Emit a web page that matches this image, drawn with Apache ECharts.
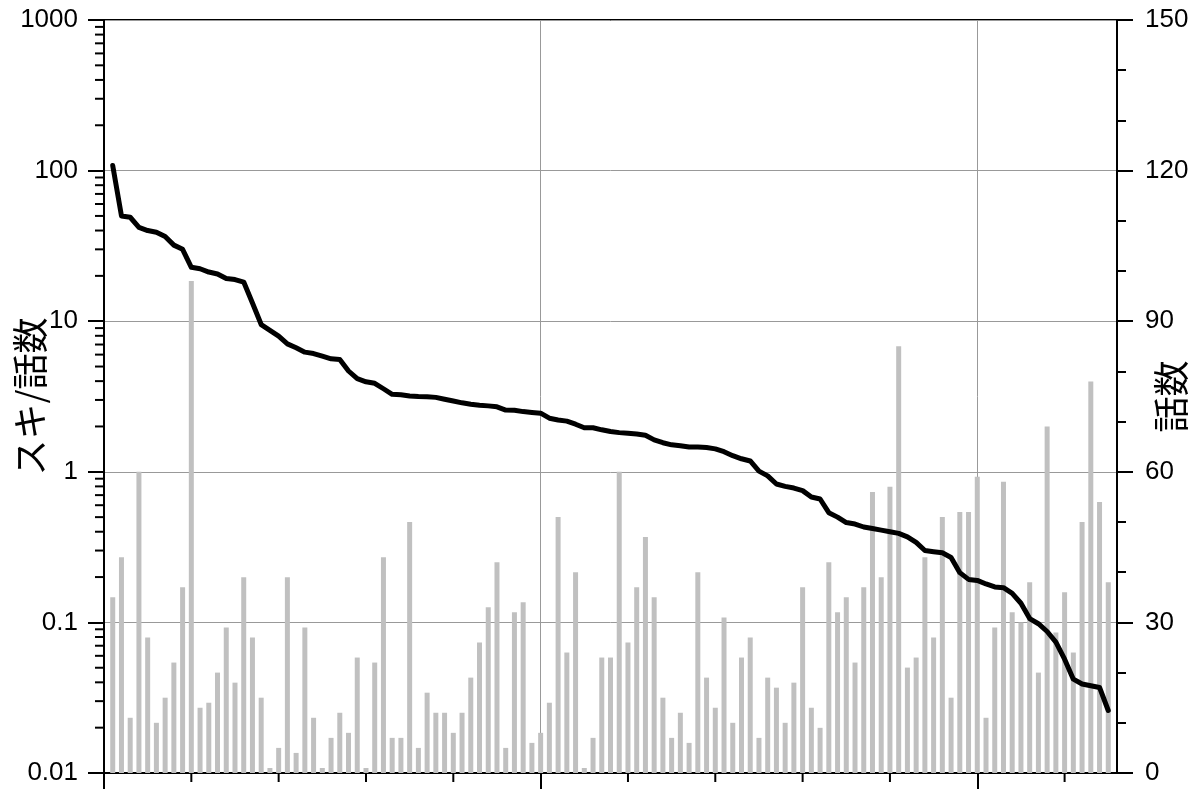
<!DOCTYPE html>
<html><head><meta charset="utf-8">
<script src="https://cdn.jsdelivr.net/npm/echarts@6/dist/echarts.min.js"></script>
<style>html,body{margin:0;padding:0;background:#fff}#c{width:1200px;height:795px}</style>
</head><body><div id="c"></div>
<script>
// 話数 per work (bars, right axis)
const episodes = [
35,43,11,60,27,10,15,22,37,98,
13,14,20,29,18,39,27,15,1,5,
39,4,29,11,1,7,12,8,23,1,
22,43,7,7,50,5,16,12,12,8,
12,19,26,33,42,5,32,34,6,8,
14,51,24,40,1,7,23,23,60,26,
37,47,35,15,7,12,6,40,19,13,
31,10,23,27,7,19,17,10,18,37,
13,9,42,32,35,22,37,56,39,57,
85,21,23,43,27,51,15,52,52,59,
11,29,58,32,30,38,20,69,28,36,
24,50,78,54,38];
// スキ/話数 (line, left log axis)
const likesPerEpisode = [
108,50,49,42,40,39,36.5,32,30,22.8,
22.3,21.2,20.6,19.2,18.9,18.2,13.2,9.5,8.7,7.96,
7.07,6.66,6.23,6.1,5.86,5.63,5.57,4.67,4.15,3.96,
3.87,3.56,3.27,3.25,3.19,3.16,3.15,3.12,3.03,2.95,
2.87,2.81,2.77,2.74,2.70,2.57,2.56,2.51,2.48,2.45,
2.27,2.21,2.17,2.07,1.96,1.96,1.90,1.85,1.82,1.80,
1.78,1.75,1.63,1.56,1.51,1.49,1.46,1.46,1.45,1.42,
1.36,1.28,1.22,1.18,1.01,0.94,0.83,0.80,0.78,0.75,
0.68,0.66,0.535,0.50,0.46,0.45,0.43,0.42,0.41,0.40,
0.39,0.37,0.34,0.30,0.295,0.29,0.27,0.214,0.193,0.19,
0.18,0.172,0.17,0.156,0.134,0.106,0.098,0.087,0.074,0.057,
0.042,0.039,0.038,0.037,0.026];
const xMajorTicks = [0, 50, 100];
const xMinorTicks = [10, 20, 30, 40, 60, 70, 80, 90, 110];
const logMinorMultipliers = [2, 3, 4, 5, 6, 7, 8, 9];
const logDecades = [0.01, 0.1, 1, 10, 100];

const idx = episodes.map((_, i) => i + 1);
const barData = idx.map((x, i) => [x, episodes[i]]);
const lineData = idx.map((x, i) => [x, likesPerEpisode[i]]);
const logMinor = [];
logDecades.forEach(d => logMinorMultipliers.forEach(k => logMinor.push([0, +(k * d).toPrecision(3)])));
const xMinorData = xMinorTicks.map(v => [v, 0.01]);

const FONT = 'Liberation Sans, Arial, sans-serif';
const JP = 'Noto Sans CJK JP, sans-serif';
const black = '#000';

const chart = echarts.init(document.getElementById('c'));
chart.setOption({
  animation: false,
  backgroundColor: '#fff',
  grid: { left: 104, right: 83, top: 20, bottom: 22, show: true, borderColor: black, borderWidth: 2, outerBoundsMode: 'none', containLabel: false },
  xAxis: [{
    type: 'value', min: 0, max: 116, interval: 50,
    axisLine: { show: true, onZero: false, lineStyle: { color: black, width: 2 } },
    axisTick: { show: true, customValues: xMajorTicks, length: 16, lineStyle: { color: black, width: 2 } },
    axisLabel: { show: false },
    splitLine: { show: true, lineStyle: { color: '#999', width: 1 } },
    minorTick: { show: false }
  }],
  yAxis: [{
    type: 'log', logBase: 10, min: 0.01, max: 1000, position: 'left',
    name: 'スキ/話数', nameLocation: 'middle', nameRotate: 90, nameGap: 56, nameMoveOverlap: false,
    nameTextStyle: { fontSize: 36, color: black, fontFamily: JP },
    axisLine: { show: true, onZero: false, lineStyle: { color: black, width: 2 } },
    axisTick: { show: true, length: 16, lineStyle: { color: black, width: 2 } },
    axisLabel: { color: black, fontSize: 26, fontFamily: FONT, margin: 26, formatter: v => String(v) },
    splitLine: { show: true, lineStyle: { color: '#999', width: 1 } }
  }, {
    type: 'value', min: 0, max: 150, interval: 30, position: 'right',
    name: '話数', nameLocation: 'middle', nameRotate: 90, nameGap: 36, nameMoveOverlap: false,
    nameTextStyle: { fontSize: 36, color: black, fontFamily: JP },
    axisLine: { show: true, onZero: false, lineStyle: { color: black, width: 2 } },
    axisTick: { show: true, length: 16, lineStyle: { color: black, width: 2 } },
    minorTick: { show: true, splitNumber: 3, length: 9, lineStyle: { color: black, width: 2 } },
    axisLabel: { color: black, fontSize: 26, fontFamily: FONT, margin: 28 },
    splitLine: { show: false }
  }],
  series: [{
    type: 'bar', name: '話数', xAxisIndex: 0, yAxisIndex: 1, data: barData,
    barWidth: 5, itemStyle: { color: '#c0c0c0' }, z: 2
  }, {
    type: 'line', name: 'スキ/話数', xAxisIndex: 0, yAxisIndex: 0, data: lineData,
    showSymbol: false, symbol: 'none', lineStyle: { color: black, width: 5, join: 'round', cap: 'round' }, z: 3
  }, {
    type: 'custom', name: 'log-minor-ticks', xAxisIndex: 0, yAxisIndex: 0, data: logMinor, clip: false, silent: true, z: 4,
    renderItem: (params, api) => {
      const p = api.coord([api.value(0), api.value(1)]);
      return { type: 'line', shape: { x1: p[0] - 9, y1: p[1], x2: p[0], y2: p[1] }, style: { stroke: black, lineWidth: 2 } };
    }
  }, {
    type: 'custom', name: 'x-minor-ticks', xAxisIndex: 0, yAxisIndex: 0, data: xMinorData, clip: false, silent: true, z: 4,
    renderItem: (params, api) => {
      const p = api.coord([api.value(0), api.value(1)]);
      return { type: 'line', shape: { x1: p[0], y1: p[1], x2: p[0], y2: p[1] + 9 }, style: { stroke: black, lineWidth: 2 } };
    }
  }]
});
</script></body></html>
